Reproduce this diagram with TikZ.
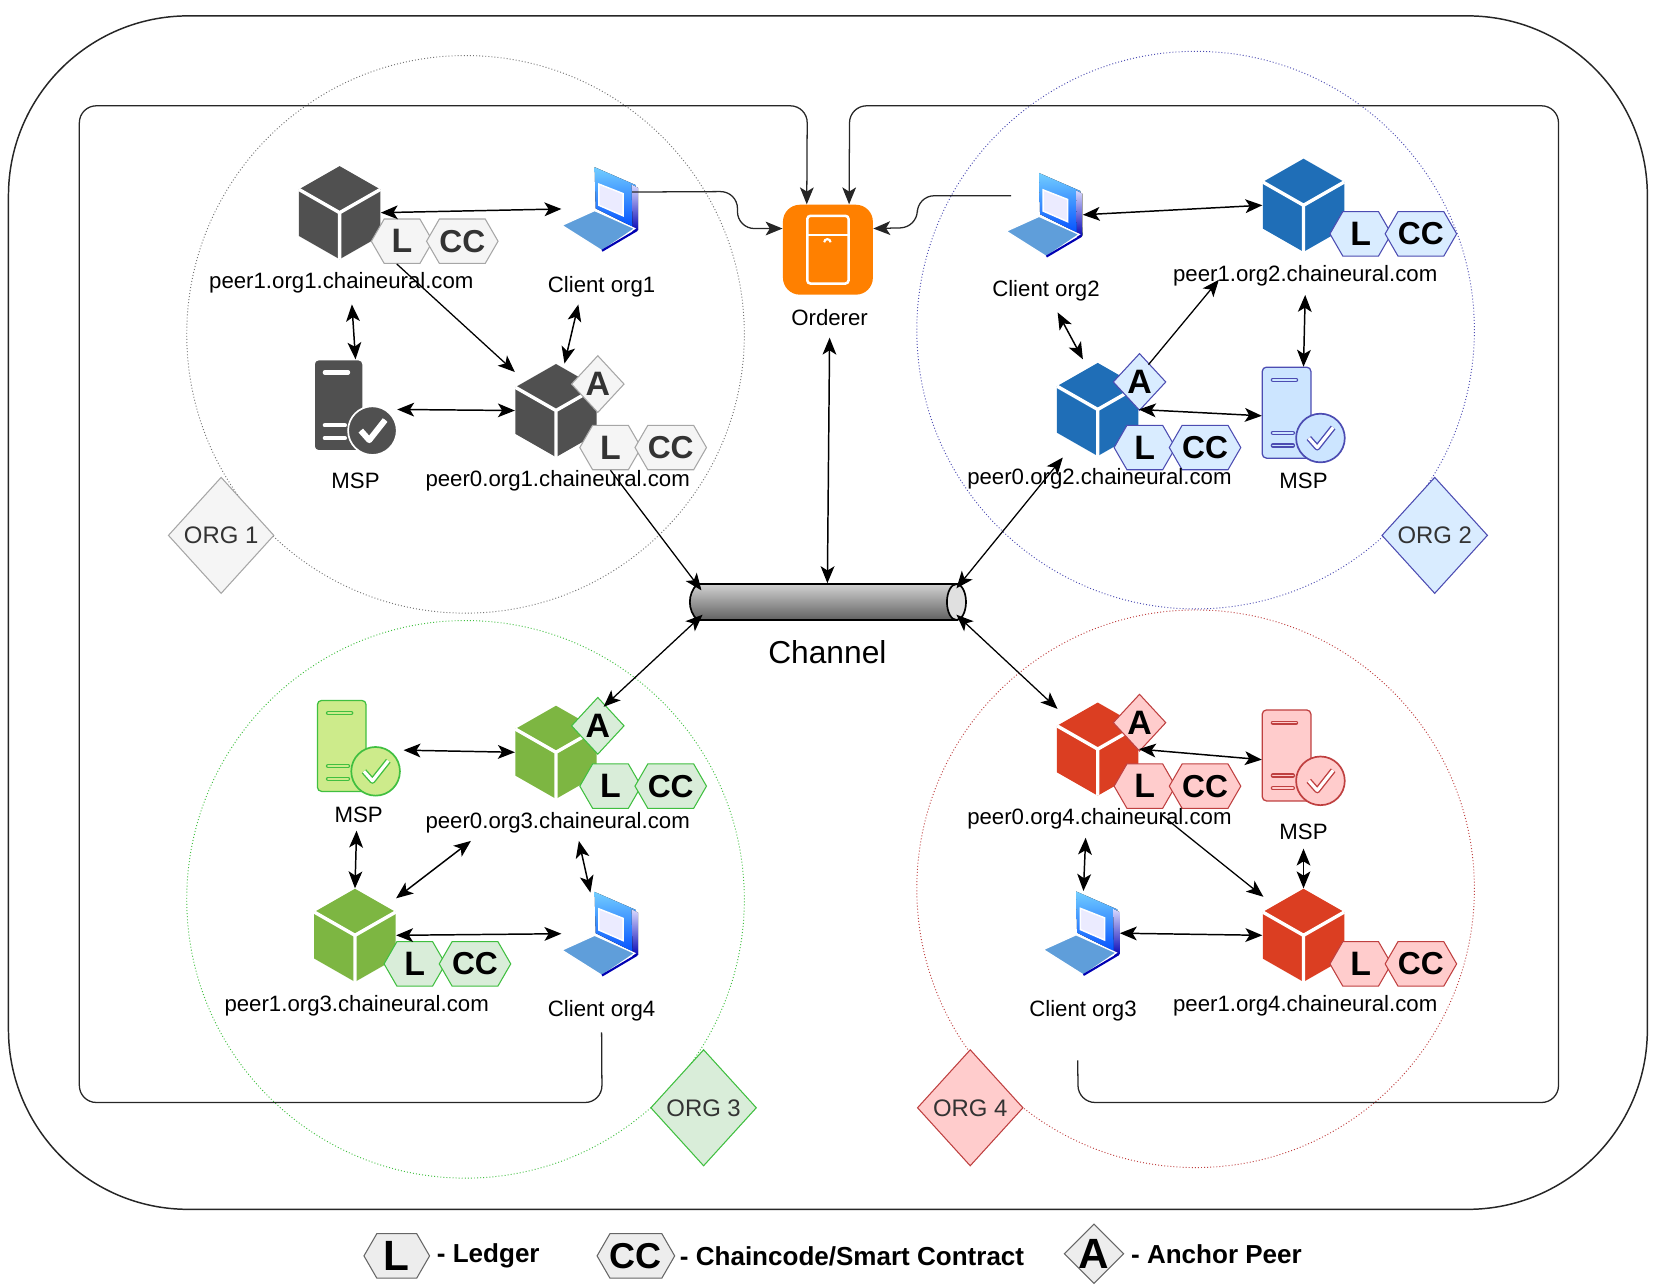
\documentclass[tikz,border=0pt]{standalone}
\usepackage{fontspec}
\setmainfont{Liberation Sans}
\usepackage{tikz}
\usetikzlibrary{arrows.meta,positioning,shapes.geometric,shapes.symbols,shapes.misc,calc}
\definecolor{CubeGray}{HTML}{505050}
\definecolor{CubeBlue}{HTML}{1F6EB7}
\definecolor{CubeGreen}{HTML}{7DB642}
\definecolor{CubeRed}{HTML}{DB3E22}
\definecolor{OrdererOrange}{HTML}{FF8000}
\definecolor{MspBlue}{HTML}{CCE5FF}
\definecolor{MspGreen}{HTML}{CDEB8B}
\tikzset{
  net/label/.style={inner sep=0pt, font=\fontsize{10.5}{12}\selectfont, below=#1, xshift=.8pt},
  net/peer/.style={inner sep=0pt, minimum width=38.5pt, minimum height=44pt},
  net/msp/.style={inner sep=0pt, minimum width=39pt, minimum height=45pt},
  net/laptop/.style={inner sep=0pt, minimum width=36pt, minimum height=39.5pt},
  net/hex/.style={draw, signal, signal to=east and west, signal pointer angle=120, inner sep=0pt, minimum width=29pt, minimum height=21pt, line width=.5pt, text=black},
  net/ledger/.style={net/hex, font=\fontsize{16}{16}\bfseries},
  net/code/.style={net/hex, font=\fontsize{15}{15}\bfseries},
  net/anchor/.style={draw, diamond, inner sep=0pt, minimum width=25pt, minimum height=27pt, line width=.5pt, font=\fontsize{16}{16}\bfseries, text=black},
  net/orgtag/.style={draw, diamond, inner sep=0pt, minimum width=50pt, minimum height=55pt, line width=.5pt, font=\fontsize{11.3}{12}\selectfont, text=black!80},
  net/zone/.style={draw, circle, densely dotted, line width=.45pt, minimum size=263.5pt, inner sep=0pt},
  net/gray/.style={fill=black!4, draw=black!35},
  net/blue/.style={fill=blue!50!cyan!15, draw=blue!40!gray},
  net/green/.style={fill=green!35!gray!22, draw=green!50!gray},
  net/red/.style={fill=red!20, draw=red!50!gray},
  net/both/.style={{Stealth[length=8pt,width=6.5pt,inset=2pt]}-{Stealth[length=8pt,width=6.5pt,inset=2pt]}, line width=.7pt},
  net/arr/.style={-{Stealth[length=8pt,width=6.5pt,inset=2pt]}, line width=.6pt},
  net/trunk/.style={net/arr, rounded corners=8pt, draw=black!85},
  pics/netcube/.style={code={
    \fill[#1] (0,-44) -- (38.5,-22) -- (38.5,22) -- (0,44) -- (-38.5,22) -- (-38.5,-22) -- cycle;
    \draw[white, line width=1.6pt] (-38.5,-22) -- (0,0) -- (38.5,-22) (0,0) -- (0,44);
  }},
  pics/netmsp/.style n args={3}{code={
    \draw[fill=#1, draw=#2, line width=.6pt, rounded corners=2pt] (-39,-45) rectangle (7,41);
    \draw[#2, line width=2pt, line cap=round] (-29,-33) -- (-7,-33) (-29,17) -- (-10,17) (-29,29) -- (-10,29);
    \draw[#3, line width=.8pt, line cap=round] (-29,-33) -- (-7,-33) (-29,17) -- (-10,17) (-29,29) -- (-10,29);
    \draw[fill=#1, draw=#2, line width=.8pt] (16,22) circle [radius=23];
    \draw[#2, line width=2.8pt, line join=round] (5,22) -- (13,31) -- (28,12);
    \draw[white, line width=1.5pt, line join=round] (5,22) -- (13,31) -- (28,12);
  }},
  pics/netlaptop/.style={code={
    \fill[top color=blue!35!cyan!55, bottom color=blue!70!cyan] (-5,-39.5) -- (34,-22.5) -- (36,19.5) -- (-4,-.5) -- cycle;
    \draw[white, fill=blue!8, line width=.7pt] (-1,-23.5) -- (22,-14.5) -- (22,6.5) -- (-1,-3.5) -- cycle;
    \fill[top color=blue!15, bottom color=blue!70!black] (30,-23) -- (36,-20) -- (36,20) -- (31,22) -- cycle;
    \draw[white, fill=cyan!60!blue!65, line width=.6pt] (-36,15.5) -- (-5,1.5) -- (33,18.5) -- (2,39.5) -- cycle;
    \draw[blue!70!black, line width=1pt] (2,39.5) -- (35,20);
  }}
}
\begin{document}
\begin{tikzpicture}[x=.5pt, y=-.5pt, node distance=6pt and 3pt]
  \useasboundingbox (0,0) rectangle (1568,1216);
  % zones
  \node[draw=black!85, rounded corners=85pt, line width=.7pt, minimum width=774.5pt, minimum height=564pt, inner sep=0pt] (network) at (782.5,579) {};
  \node[net/zone, draw=black!55] (zone1) at (440,316) {};
  \node[net/zone, draw=blue!40!gray] (zone2) at (1130,312) {};
  \node[net/zone, draw=green!50!gray] (zone3) at (440,850) {};
  \node[net/zone, draw=red!50!gray] (zone4) at (1130,840) {};
  \node[net/orgtag, net/gray] (tag1) at (209,506) {ORG 1};
  \node[net/orgtag, net/blue] (tag2) at (1356,506) {ORG 2};
  \node[net/orgtag, net/green] (tag3) at (665,1047) {ORG 3};
  \node[net/orgtag, net/red] (tag4) at (917,1047) {ORG 4};

  % orderer and channel
  \node[fill=OrdererOrange, rounded corners=8pt, minimum size=42.5pt, inner sep=0pt] (orderer) at (782.5,236) {};
  \draw[white, line width=1.2pt, rounded corners=1.5pt] (763,204) rectangle (802,268);
  \draw[white, line width=1.2pt] (763,222) -- (802,222);
  \draw[white, line width=1pt] (779,229) arc[start angle=180, end angle=360, radius=3];
  \node[net/label=6.5pt of orderer, xshift=0pt] (orderertxt) {Orderer};
  \node[draw, rounded rectangle, rounded rectangle arc length=90, minimum width=130pt, minimum height=17pt, inner sep=0pt, line width=.8pt, top color=black!18, bottom color=black!62] (channel) at (782,569) {};
  \draw[fill=black!12, line width=.8pt] ($(channel)+(122,0)$) ellipse [x radius=9, y radius=17];
  \node[inner sep=0pt, font=\fontsize{15}{16}\selectfont, below=9pt of channel] (channeltxt) {Channel};

  % org 1
  \node[net/peer] (p1o1) at (321,201) {};
  \pic at (p1o1) {netcube=CubeGray};
  \node[net/ledger, net/gray, text=black!80] (p1o1l) at (380,228) {L};
  \node[net/code, net/gray, text=black!80, right=-3.5pt of p1o1l] (p1o1c) {CC};
  \node[net/label=6pt of p1o1] (p1o1txt) {peer1.org1.chaineural.com};
  \node[net/peer] (p0o1) at (525.5,388) {};
  \pic at (p0o1) {netcube=CubeGray};
  \node[net/anchor, net/gray, text=black!80] (p0o1a) at (565,363) {A};
  \node[net/ledger, net/gray, text=black!80] (p0o1l) at (577,423) {L};
  \node[net/code, net/gray, text=black!80, right=-3.5pt of p0o1l] (p0o1c) {CC};
  \node[net/label=6pt of p0o1] (p0o1txt) {peer0.org1.chaineural.com};
  \node[net/msp] (msp1) at (336,385) {};
  \pic at (msp1) {netmsp={CubeGray}{white}{white}};
  \node[net/label=8pt of msp1, xshift=-.8pt] (msp1txt) {MSP};
  \node[net/laptop] (client1) at (567,197.5) {};
  \pic at (client1) {netlaptop};
  \node[net/label=11.5pt of client1] (client1txt) {Client org1};

  % org 2
  \node[net/peer] (p1o2) at (1232,194) {};
  \pic at (p1o2) {netcube=CubeBlue};
  \node[net/ledger, net/blue] (p1o2l) at (1286,221) {L};
  \node[net/code, net/blue, right=-3.5pt of p1o2l] (p1o2c) {CC};
  \node[net/label=6pt of p1o2] (p1o2txt) {peer1.org2.chaineural.com};
  \node[net/peer] (p0o2) at (1037.5,387) {};
  \pic at (p0o2) {netcube=CubeBlue};
  \node[net/anchor, net/blue] (p0o2a) at (1077,361) {A};
  \node[net/ledger, net/blue] (p0o2l) at (1082,423) {L};
  \node[net/code, net/blue, right=-3.5pt of p0o2l] (p0o2c) {CC};
  \node[net/label=5.5pt of p0o2] (p0o2txt) {peer0.org2.chaineural.com};
  \node[net/msp] (msp2) at (1232,392) {};
  \pic at (msp2) {netmsp={MspBlue}{blue!40!gray}{MspBlue}};
  \node[net/label=4.5pt of msp2, xshift=-.8pt] (msp2txt) {MSP};
  \node[net/laptop] (client2) at (987,203) {};
  \pic at (client2) {netlaptop};
  \node[net/label=11pt of client2] (client2txt) {Client org2};

  % org 3
  \node[net/peer] (p0o3) at (525.5,711) {};
  \pic at (p0o3) {netcube=CubeGreen};
  \node[net/anchor, net/green] (p0o3a) at (565,686) {A};
  \node[net/ledger, net/green] (p0o3l) at (577,743) {L};
  \node[net/code, net/green, right=-3.5pt of p0o3l] (p0o3c) {CC};
  \node[net/label=6pt of p0o3] (p0o3txt) {peer0.org3.chaineural.com};
  \node[net/peer] (p1o3) at (335.5,884) {};
  \pic at (p1o3) {netcube=CubeGreen};
  \node[net/ledger, net/green] (p1o3l) at (392,911) {L};
  \node[net/code, net/green, right=-3.5pt of p1o3l] (p1o3c) {CC};
  \node[net/label=6pt of p1o3] (p1o3txt) {peer1.org3.chaineural.com};
  \node[net/msp] (msp3) at (339,707) {};
  \pic at (msp3) {netmsp={MspGreen}{green!50!gray}{MspGreen}};
  \node[net/label=5pt of msp3, xshift=-.8pt] (msp3txt) {MSP};
  \node[net/laptop] (client4) at (567,882.5) {};
  \pic at (client4) {netlaptop};
  \node[net/label=11.5pt of client4] (client4txt) {Client org4};

  % org 4
  \node[net/peer] (p0o4) at (1037.5,708) {};
  \pic at (p0o4) {netcube=CubeRed};
  \node[net/anchor, net/red] (p0o4a) at (1077,683) {A};
  \node[net/ledger, net/red] (p0o4l) at (1082,743) {L};
  \node[net/code, net/red, right=-3.5pt of p0o4l] (p0o4c) {CC};
  \node[net/label=5.5pt of p0o4] (p0o4txt) {peer0.org4.chaineural.com};
  \node[net/peer] (p1o4) at (1232,884) {};
  \pic at (p1o4) {netcube=CubeRed};
  \node[net/ledger, net/red] (p1o4l) at (1286,911) {L};
  \node[net/code, net/red, right=-3.5pt of p1o4l] (p1o4c) {CC};
  \node[net/label=6pt of p1o4] (p1o4txt) {peer1.org4.chaineural.com};
  \node[net/msp] (msp4) at (1232,716) {};
  \pic at (msp4) {netmsp={red!20}{red!50!gray}{red!20}};
  \node[net/label=8.5pt of msp4, xshift=-.8pt] (msp4txt) {MSP};
  \node[net/laptop] (client3) at (1022,882) {};
  \pic at (client3) {netlaptop};
  \node[net/label=11.5pt of client3] (client3txt) {Client org3};

  % orderer lines
  \draw[net/trunk] ([shift={(0,10)}]client4txt.south) -- (569,1042) -- (75,1042) -- (75,100) -- (763,100) -- (orderer.115);
  \draw[net/trunk] ([shift={(-5,37)}]client3txt.south) -- (1019,1042) -- (1473,1042) -- (1473,100) -- (803,100) -- (orderer.65);
  \draw[net/trunk] ([shift={(-6,-16)}]client1.east) -- (697,181) -- (697,216) -- (orderer.155);
  \draw[net/trunk] ([shift={(5,-18)}]client2.west) -- (867,185) -- (867,215) -- (orderer.25);
  \draw[net/both] ([yshift=-5.5pt]orderertxt.south) -- (channel.north);

  % channel lines
  \draw[net/arr] (p0o1l.south) -- ([shift={(-119,-11)}]channel.center);
  \draw[net/both, line width=.6pt] ([shift={(-33,1)}]p0o2.south) -- ([shift={(122,-13)}]channel.center);
  \draw[net/both, line width=.6pt] ([shift={(-118,12)}]channel.center) -- ([shift={(45,-43)}]p0o3.center);
  \draw[net/both, line width=.6pt] ([shift={(122,12)}]channel.center) -- ([shift={(-38,-38)}]p0o4.center);

  % org 1 lines
  \draw[net/both] (p1o1.east) -- (client1.west);
  \draw[net/arr] ([xshift=-2.5pt]p1o1l.south) -- ([shift={(0,8)}]p0o1.north west);
  \draw[net/both] ([shift={(10,10)}]p1o1txt.south) -- (msp1.north);
  \draw[net/both] ([yshift=-1pt]msp1.east) -- (p0o1.west);
  \draw[net/both] ([xshift=4pt]p0o1.north) -- ([shift={(-22,7)}]client1txt.south);

  % org 2 lines
  \draw[net/both] (client2.east) -- (p1o2.west);
  \draw[net/both] ([shift={(11,10)}]client2txt.south) -- ([shift={(-14,-3)}]p0o2.north);
  \draw[net/arr] ([shift={(48,2)}]p0o2.north) -- ([shift={(-80,26)}]p1o2.south);
  \draw[net/both] ([yshift=-4pt]p1o2txt.south) -- (msp2.north);
  \draw[net/both] (p0o2.east) -- ([yshift=-.5pt]msp2.west);

  % org 3 lines
  \draw[net/both] ([shift={(3,2)}]msp3.east) -- (p0o3.west);
  \draw[net/both] ([shift={(-2,7)}]msp3txt.south) -- (p1o3.north);
  \draw[net/both] ([shift={(0,-35)}]p1o3.east) -- ([shift={(-82,7)}]p0o3txt.south);
  \draw[net/both] (p1o3.east) -- (client4.west);
  \draw[net/both] ([shift={(20,7)}]p0o3txt.south) -- ([shift={(-9,1)}]client4.north);

  % org 4 lines
  \draw[net/both] (p0o4.east) -- ([yshift=-1pt]msp4.west);
  \draw[net/both] ([shift={(-13,8)}]p0o4txt.south) -- ([shift={(2,0)}]client3.north);
  \draw[net/arr] ([shift={(16,6)}]p0o4l.south) -- ([shift={(1,8)}]p1o4.north west);
  \draw[net/both] ([yshift=-4pt]msp4txt.south) -- (p1o4.north);
  \draw[net/both] (client3.east) -- (p1o4.west);

  % legend
  \node[net/ledger, fill=black!7, draw=black!60, minimum width=31pt, font=\fontsize{20}{20}\bfseries] (lgledger) at (375,1187) {L};
  \node[inner sep=0pt, font=\fontsize{12.3}{14}\bfseries, right=3pt of lgledger] (lgledgertxt) {- Ledger};
  \node[net/code, fill=black!7, draw=black!60, minimum width=31pt, font=\fontsize{17}{17}\bfseries] (lgcode) at (601,1187) {CC};
  \node[inner sep=0pt, font=\fontsize{12.3}{14}\bfseries, right=2pt of lgcode] (lgcodetxt) {- Chaincode/Smart Contract};
  \node[net/anchor, fill=black!7, draw=black!60, minimum width=26pt, minimum height=25.5pt, font=\fontsize{20}{20}\bfseries] (lganchor) at (1034,1185) {A};
  \node[inner sep=0pt, font=\fontsize{12.3}{14}\bfseries, right=3pt of lganchor] (lganchortxt) {- Anchor Peer};
\end{tikzpicture}
\end{document}
